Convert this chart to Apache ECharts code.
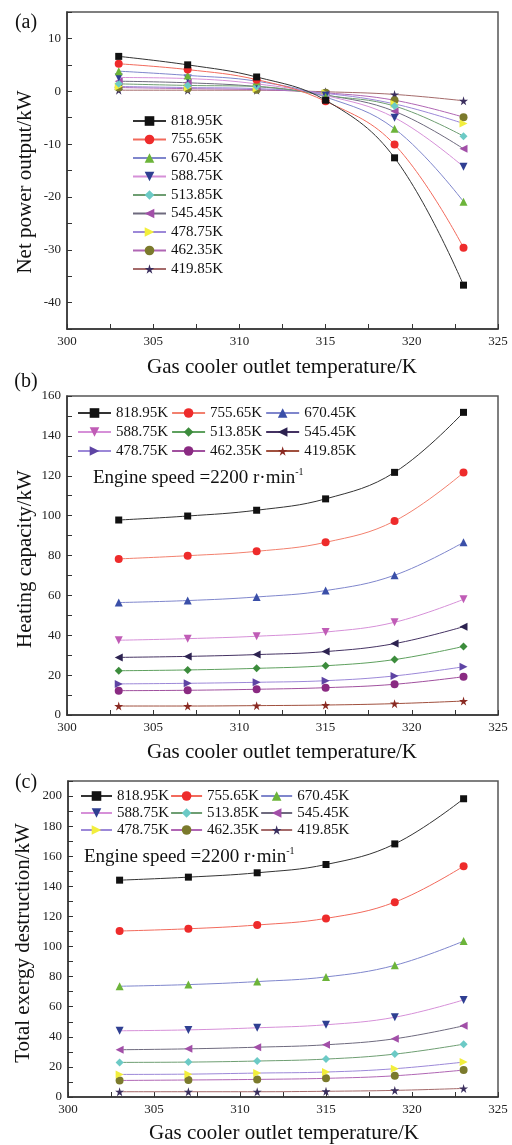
<!DOCTYPE html>
<html><head><meta charset="utf-8">
<script src="https://cdn.jsdelivr.net/npm/echarts@6/dist/echarts.min.js"></script>
<style>
html,body{margin:0;padding:0;background:#fff;width:512px;height:1145px;overflow:hidden}
.p{position:absolute;left:0;width:512px}
</style></head>
<body>
<div id="ca" class="p" style="top:0;height:380px"></div>
<div id="cb" class="p" style="top:366px;height:394px"></div>
<div id="cc" class="p" style="top:760px;height:385px"></div>
<script>
// ---------------- DATA ----------------
const gasCoolerTemps = [303, 307, 311, 315, 319, 323];
const seriesNames = ['818.95K','755.65K','670.45K','588.75K','513.85K','545.45K','478.75K','462.35K','419.85K'];

// (a) Net power output / kW
const netPower_818 = [6.6, 5.0, 2.7, -1.7, -12.6, -36.7];
const netPower_755 = [5.2, 4.1, 2.2, -1.9, -10.1, -29.6];
const netPower_670 = [3.8, 3.0, 1.9, -1.1, -7.1, -20.9];
const netPower_588 = [2.6, 2.4, 1.4, -0.8, -5.0, -14.3];
const netPower_513 = [1.4, 1.1, 0.9, -0.8, -2.8, -8.5];
const netPower_545 = [1.9, 1.6, 0.9, -0.7, -3.8, -10.9];
const netPower_478 = [0.9, 0.7, 0.5, -0.4, -2.4, -6.1];
const netPower_462 = [0.7, 0.5, 0.3, -0.3, -1.7, -4.9];
const netPower_419 = [0.2, 0.2, 0.2, -0.1, -0.6, -1.8];

// (b) Heating capacity / kW
const heating_818 = [97.8, 99.8, 102.7, 108.4, 121.7, 151.8];
const heating_755 = [78.3, 79.9, 82.1, 86.6, 97.3, 121.6];
const heating_670 = [56.4, 57.4, 59.2, 62.4, 70.1, 86.6];
const heating_588 = [37.5, 38.3, 39.5, 41.6, 46.5, 58.0];
const heating_513 = [22.2, 22.6, 23.4, 24.7, 27.8, 34.4];
const heating_545 = [28.9, 29.4, 30.3, 31.8, 35.8, 44.3];
const heating_478 = [15.6, 15.9, 16.4, 17.2, 19.6, 24.2];
const heating_462 = [12.2, 12.4, 12.9, 13.7, 15.4, 19.2];
const heating_419 = [4.5, 4.5, 4.7, 5.0, 5.7, 7.0];

// (c) Total exergy destruction / kW
const exergy_818 = [144.1, 146.1, 149.0, 154.5, 168.2, 198.2];
const exergy_755 = [110.3, 111.8, 114.3, 118.7, 129.5, 153.4];
const exergy_670 = [73.6, 74.7, 76.7, 79.8, 87.5, 103.6];
const exergy_588 = [44.0, 44.6, 46.0, 48.0, 53.0, 64.5];
const exergy_513 = [23.0, 23.2, 23.9, 25.2, 28.5, 35.1];
const exergy_545 = [31.4, 32.0, 33.1, 34.7, 38.7, 47.3];
const exergy_478 = [15.0, 15.2, 15.9, 16.6, 18.8, 23.2];
const exergy_462 = [11.0, 11.3, 11.7, 12.4, 14.1, 17.9];
const exergy_419 = [3.5, 3.5, 3.5, 3.8, 4.4, 5.7];

// ---------------- STYLE ----------------
const FONT = '"Liberation Serif","Times New Roman",serif';
const SYM = {
  square: 'rect',
  circle: 'circle',
  up: 'triangle',
  down: 'path://M0,0 L10,0 L5,9 Z',
  diamond: 'diamond',
  left: 'path://M9,0 L9,10 L0,5 Z',
  right: 'path://M0,0 L0,10 L9,5 Z',
  star: 'path://M50,0 L61,35 L98,35 L68,57 L79,91 L50,70 L21,91 L32,57 L2,35 L39,35 Z'
};
const symbolOrder = ['square','circle','up','down','diamond','left','right','circle','star'];

const markerAC = ['#111111','#ee2b2b','#6cb43a','#2f3f92','#6ccac6','#a24fa8','#f2ee3c','#7b7a2c','#3b2f5e'];
const lineAC   = ['#333333','#f26a5c','#7f86cc','#d690d8','#6e9e72','#6e6a7e','#9c88d8','#b066b4','#a46a6a'];
const markerB  = ['#111111','#ee2b2b','#3a4fa8','#c05cb6','#3c8c3c','#2c2250','#5e44a4','#8a2a82','#8a2a22'];
const lineB    = ['#333333','#f2806e','#7f86cc','#d690d8','#5ea05e','#443262','#9c88d8','#a0509e','#a0503e'];

function buildSeries(arrays, markers, lines) {
  return arrays.map((vals, k) => ({
    name: seriesNames[k],
    type: 'line',
    smooth: 0.4,
    data: gasCoolerTemps.map((t, i) => [t, vals[i]]),
    symbol: SYM[symbolOrder[k]],
    symbolSize: symbolOrder[k] === 'square' ? 7 : (symbolOrder[k] === 'star' ? 9 : 8),
    itemStyle: { color: markers[k] },
    lineStyle: { color: lines[k], width: 1 },
    z: 10 - k
  }));
}

function axisCommon() {
  return {
    axisLine: { show: true, onZero: false, lineStyle: { color: '#333', width: 1.5 } },
    axisTick: { show: true, inside: true, length: 5, lineStyle: { color: '#333', width: 1 } },
    splitLine: { show: false },
    axisLabel: { color: '#222', fontFamily: FONT, fontSize: 13, margin: 6 }
  };
}

function makeChart(id, cfg) {
  const chart = echarts.init(document.getElementById(id), null, { renderer: 'canvas' });
  const xa = axisCommon();
  xa.type = 'value'; xa.min = 300; xa.max = 325; xa.interval = 2.5;
  xa.axisLabel.formatter = v => (Math.abs(v % 5) < 1e-9 ? String(v) : '');
  const ya = axisCommon();
  ya.type = 'value'; ya.min = cfg.yMin; ya.max = cfg.yMax; ya.interval = cfg.yTick;
  ya.axisLabel.formatter = v => (Math.abs(v % cfg.yLabel) < 1e-9 ? String(v) : '');
  const graphic = [
    { type: 'text', x: 26, y: cfg.panelY, style: { text: cfg.panel, font: '20px ' + FONT, fill: '#111', align: 'center', verticalAlign: 'middle' } },
    { type: 'text', x: cfg.xTitle[0], y: cfg.xTitle[1], style: { text: 'Gas cooler outlet temperature/K', font: '21px ' + FONT, fill: '#111', align: 'center', verticalAlign: 'middle' } },
    { type: 'text', x: cfg.yTitle[0], y: cfg.yTitle[1], rotation: Math.PI / 2, style: { text: cfg.yName, font: '21px ' + FONT, fill: '#111', align: 'center', verticalAlign: 'middle' } }
  ];
  if (cfg.note) {
    graphic.push({ type: 'text', x: cfg.note[0], y: cfg.note[1], style: {
      text: '{a|Engine speed =2200 r·min}{s|-1}', align: 'left', verticalAlign: 'middle',
      rich: {
        a: { fontFamily: FONT, fontSize: 19, lineHeight: 22, fill: '#111', color: '#111' },
        s: { fontFamily: FONT, fontSize: 10, lineHeight: 10, verticalAlign: 'top', fill: '#111', color: '#111' }
      }
    } });
  }
  chart.setOption({
    animation: false,
    backgroundColor: 'transparent',
    grid: Object.assign({ show: true, borderColor: '#555', borderWidth: 1.5, backgroundColor: 'transparent', containLabel: false }, cfg.grid),
    xAxis: xa,
    yAxis: ya,
    legend: Object.assign({
      data: seriesNames,
      itemWidth: 33, itemHeight: 12,
      textStyle: { fontFamily: FONT, fontSize: 15, color: '#111', lineHeight: 16 },
      padding: 0,
      selectedMode: false
    }, cfg.legend),
    graphic: graphic,
    series: buildSeries(cfg.arrays, cfg.markers, cfg.lines)
  });
}

makeChart('ca', {
  panel: '(a)', panelY: 23,
  grid: { left: 67, right: 14, top: 12, bottom: 51 },
  yMin: -45, yMax: 15, yTick: 5, yLabel: 10,
  xTitle: [282, 367], yTitle: [25, 182], yName: 'Net power output/kW',
  legend: { orient: 'vertical', left: 132, top: 113, itemGap: 2.5 },
  arrays: [netPower_818, netPower_755, netPower_670, netPower_588, netPower_513, netPower_545, netPower_478, netPower_462, netPower_419],
  markers: markerAC, lines: lineAC
});

makeChart('cb', {
  panel: '(b)', panelY: 16,
  grid: { left: 67, right: 14, top: 30, bottom: 45 },
  yMin: 0, yMax: 160, yTick: 10, yLabel: 20,
  xTitle: [282, 386], yTitle: [25, 193], yName: 'Heating capacity/kW',
  note: [93, 112],
  legend: { orient: 'horizontal', left: 77, top: 39, width: 300, itemGap: 3, itemWidth: 33 },
  arrays: [heating_818, heating_755, heating_670, heating_588, heating_513, heating_545, heating_478, heating_462, heating_419],
  markers: markerB, lines: lineB
});

makeChart('cc', {
  panel: '(c)', panelY: 23,
  grid: { left: 68, right: 14, top: 21, bottom: 48 },
  yMin: 0, yMax: 210, yTick: 10, yLabel: 20,
  xTitle: [284, 373], yTitle: [23, 183], yName: 'Total exergy destruction/kW',
  note: [84, 97],
  legend: { orient: 'horizontal', left: 80, top: 28, width: 300, itemGap: 1, itemWidth: 31 },
  arrays: [exergy_818, exergy_755, exergy_670, exergy_588, exergy_513, exergy_545, exergy_478, exergy_462, exergy_419],
  markers: markerAC, lines: lineAC
});
</script>
</body></html>
